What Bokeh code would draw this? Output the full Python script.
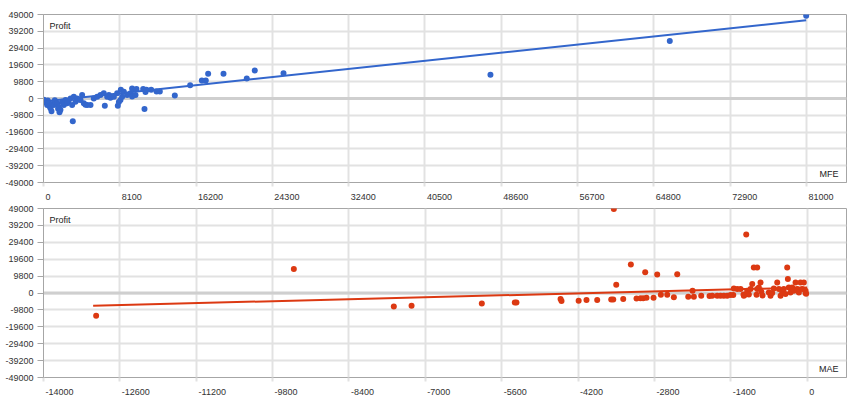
from bokeh.plotting import figure
from bokeh.models import FixedTicker, Span, Label, Range1d
from bokeh.layouts import column
from bokeh.embed import file_html
from bokeh.resources import INLINE

# ---- data: top panel (MFE vs Profit) ----
mfe = [30, 120, 212, 300, 390, 450, 570, 650, 740, 850, 920, 1100, 1200, 1270,
       1450, 1550, 1630, 1700, 1800, 1980, 2160, 2340, 2510, 2650, 2870, 3040,
       3110, 3220, 3400, 3570, 3750, 3930, 4100, 4280, 4450, 4640, 4990, 5340,
       5700, 6050, 6400, 6510, 6760, 6940, 7110, 7470, 7820, 7890, 8000, 8170,
       8210, 8350, 8530, 8880, 9240, 9410, 9410, 9770, 9870, 10580, 10720,
       10830, 10930, 11430, 12000, 12350, 13940, 15570, 16810, 17230, 17480,
       19110, 21580, 22430, 25480, 47450, 66490, 80970]
profit_mfe = [-700, -1500, -1860, -2500, -3800, -1200, -2800, -4500, -5700,
              -7500, -3200, -3800, -1000, -1860, -2800, -6000, -4750, -8000,
              -6500, -1860, -3800, -900, -2800, -1500, 60, -3800, -13300, 1000,
              -1860, 60, -600, -900, 2000, -2800, -3600, -3800, -3800, 60, 1000,
              2000, 3000, -4200, 1000, 2000, 460, 1000, 3000, -4200, -2000, -900,
              5100, 1000, 3900, 2000, 3000, 5900, 1200, 2000, 5500, 5500, -6100,
              3800, 5100, 5100, 4100, 4100, 1800, 7800, 10500, 10500, 14400,
              14400, 11700, 16300, 14800, 13800, 33500, 48200]
mfe_trend_x = [0, 80970]
mfe_trend_y = [-1700, 45600]
mfe_ticks = [0, 8100, 16200, 24300, 32400, 40500, 48600, 56700, 64800, 72900, 81000]
mfe_labels = ["0", "8100", "16200", "24300", "32400", "40500", "48600", "56700",
              "64800", "72900", "81000"]

# ---- data: bottom panel (MAE vs Profit) ----
mae = [-13035, -9411, -7578, -7253, -5965, -5360, -5330, -4522, -4504, -4190,
       -4046, -3850, -3593, -3556, -3545, -3501, -3373, -3233, -3129, -3056,
       -3006, -2970, -2946, -2817, -2750, -2683, -2566, -2445, -2383, -2181,
       -2102, -2078, -1943, -1791, -1741, -1650, -1590, -1529, -1467, -1406,
       -1356, -1345, -1283, -1222, -1168, -1162, -1131, -1118, -1100, -1070,
       -1039, -1008, -979, -929, -917, -917, -887, -856, -840, -820, -704,
       -673, -642, -612, -550, -520, -489, -458, -429, -398, -367, -355, -337,
       -306, -275, -245, -214, -183, -153, -123, -92, -62, -31, -31, -20]
profit_mae = [-13200, 13900, -7800, -7400, -6100, -5500, -5500, -3500, -4700,
              -4500, -4100, -4100, -3750, -3750, 48700, 4750, -3550, 16500,
              -3200, -3000, -3000, 12100, -2800, -2800, 10700, -1050, -1050,
              -2400, 10900, -2200, 1300, -2200, -1600, -1800, -1620, -1600,
              -1600, -1600, -1600, -1200, -1200, 2600, 2260, 2300, -900, -1620,
              -900, 33900, 1280, -900, 2260, 5160, 14800, -1050, 14800, 2300,
              3200, 6100, 800, -1500, 300, -1620, -60, 2600, 6100, 2260, -1620,
              300, 2260, -640, 14800, 8060, 3200, 300, 3200, 1280, 6100, 2260,
              300, 6100, 2260, 6100, 1280, 0, -500]
mae_trend_x = [-13090, 0]
mae_trend_y = [-7400, 3200]
mae_ticks = [-14000, -12600, -11200, -9800, -8400, -7000, -5600, -4200, -2800, -1400, 0]
mae_labels = ["-14000", "-12600", "-11200", "-9800", "-8400", "-7000", "-5600",
              "-4200", "-2800", "-1400", "0"]

profit_ticks = [-49000, -39200, -29400, -19600, -9800, 0, 9800, 19600, 29400, 39200, 49000]
profit_labels = ["-49000", "-39200", "-29400", "-19600", "-9800", "0", "9800",
                 "19600", "29400", "39200", "49000"]

FONT = "Liberation Sans"
TXT = "#333333"
GRID = "#e2e2e2"
AXIS = "#a6a6a6"
FRAME_W = 803  # px of plot frame


def label_positions(ticks, labels, units_per_px):
    """Centre of each tick label so that it reads left-aligned just right of its tick."""
    out = []
    for t, s in zip(ticks, labels):
        w = sum(3.0 if c == "-" else 5.0 for c in s)
        out.append(int(round(t + (2 + w / 2) * units_per_px)))
    return out


def panel(xs, ys, tx, ty, xticks, xlabels, xstart, xend, color, xname,
          height, border_top, border_bottom):
    p = figure(width=856, height=height, output_backend="svg",
               toolbar_location=None,
               x_range=Range1d(xstart, xend), y_range=Range1d(-49000, 49000),
               min_border_left=43, min_border_right=10, min_border_top=border_top,
               min_border_bottom=border_bottom)
    p.outline_line_color = AXIS
    p.outline_line_width = 1
    p.background_fill_color = "white"
    p.border_fill_color = "white"

    # grids
    p.xgrid.ticker = FixedTicker(ticks=xticks)
    p.ygrid.ticker = FixedTicker(ticks=profit_ticks)
    p.grid.grid_line_color = GRID
    p.grid.grid_line_width = 2

    # y axis
    ya = p.yaxis[0]
    ya.ticker = FixedTicker(ticks=profit_ticks)
    ya.major_label_overrides = {t: s for t, s in zip(profit_ticks, profit_labels)}
    ya.axis_line_color = AXIS
    ya.major_tick_line_color = AXIS
    ya.major_tick_out = 6
    ya.major_tick_in = 0
    ya.minor_tick_line_color = None
    ya.major_label_standoff = 4
    ya.major_label_text_font = FONT
    ya.major_label_text_font_size = "9px"
    ya.major_label_text_color = TXT

    # x axis: tick marks at the ticks (minor), labels placed left-aligned (major)
    upp = (xend - xstart) / FRAME_W
    lpos = label_positions(xticks, xlabels, upp)
    xa = p.xaxis[0]
    xa.ticker = FixedTicker(ticks=lpos, minor_ticks=xticks)
    xa.major_label_overrides = {t: s for t, s in zip(lpos, xlabels)}
    xa.axis_line_color = AXIS
    xa.major_tick_line_color = None
    xa.major_tick_out = 0
    xa.major_tick_in = 0
    xa.minor_tick_line_color = GRID
    xa.minor_tick_line_width = 2
    xa.minor_tick_out = 4
    xa.minor_tick_in = 0
    xa.major_label_standoff = 7
    xa.major_label_text_font = FONT
    xa.major_label_text_font_size = "9px"
    xa.major_label_text_color = TXT

    zero = Span(location=0, dimension="width", line_color="#cfcfcf",
                line_width=3, level="underlay")
    p.add_layout(zero)

    p.line(tx, ty, line_color=color, line_width=2)
    p.scatter(xs, ys, size=6, fill_color=color, line_color=None)

    p.add_layout(Label(x=xstart, y=49000, x_offset=6, y_offset=-6, text="Profit",
                       text_align="left", text_baseline="top",
                       text_font=FONT, text_font_size="9px",
                       text_color="#222222"))
    p.add_layout(Label(x=xend, y=-49000, x_offset=-8, y_offset=4, text=xname,
                       text_align="right", text_baseline="bottom",
                       text_font=FONT, text_font_size="9px",
                       text_color="#222222"))
    return p


p1 = panel(mfe, profit_mfe, mfe_trend_x, mfe_trend_y, mfe_ticks, mfe_labels,
           0, 85250, "#3366cc", "MFE", 202, 14, 19)
p2 = panel(mae, profit_mae, mae_trend_x, mae_trend_y, mae_ticks, mae_labels,
           -14000, 720, "#dc3912", "MAE", 198, 6, 23)

layout = column(p1, p2, spacing=0)
open("out.html", "w").write(file_html(layout, INLINE))
